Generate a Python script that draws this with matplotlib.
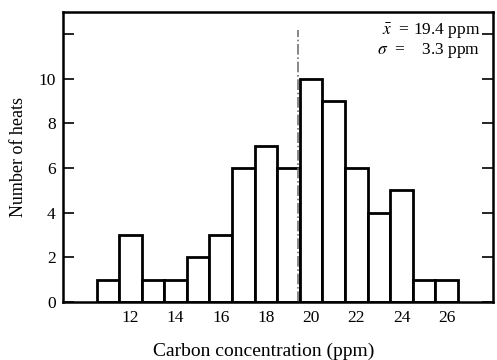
import numpy as np
import matplotlib.pyplot as plt

plt.rcParams['font.family'] = ['Liberation Serif', 'DejaVu Serif']
plt.rcParams['mathtext.fontset'] = 'stix'

# carbon concentration bins (ppm) and number of heats
conc = [11, 12, 13, 14, 15, 16, 17, 18, 19, 20, 21, 22, 23, 24, 25, 26]
heats = [1, 3, 1, 1, 2, 3, 6, 7, 6, 10, 9, 6, 4, 5, 1, 1]
mean_c = 19.4
sigma_c = 3.3

xticks = [12, 14, 16, 18, 20, 22, 24, 26]
yticks = [0, 2, 4, 6, 8, 10, 12]
ylabels = ['0', '2', '4', '6', '8', '10', '']

fig = plt.figure(figsize=(4.97, 3.6), dpi=100)
ax = fig.add_axes([0.126, 0.161, 0.866, 0.806])

ax.bar(conc, heats, width=1.0, color='white', edgecolor='black', linewidth=2)

# mean line
ax.vlines(mean_c, 0, 12.2, colors='0.45', linestyles='dashdot', linewidth=1.2)

ax.set_xlim(9, 28.05)
ax.set_ylim(0, 13)
ax.set_xticks(xticks)
ax.set_xticklabels([str(t) for t in xticks], fontsize=12.5)
ax.set_yticks(yticks)
ax.set_yticklabels(ylabels, fontsize=12.5)
ax.tick_params(axis='x', length=0, pad=6)
ax.tick_params(axis='y', direction='in', length=8, width=1.2, right=True, pad=5)
for s in ax.spines.values():
    s.set_linewidth(1.8)

ax.text(0.97, 0.932, r'$\bar{x}$  = 19.4 ppm', transform=ax.transAxes,
        ha='right', va='center', fontsize=12.5)
ax.text(0.97, 0.866, r'$\sigma$  =    3.3 ppm', transform=ax.transAxes,
        ha='right', va='center', fontsize=12.5)

ax.set_xlabel('Carbon concentration (ppm)', fontsize=14)
ax.xaxis.set_label_coords(0.466, -0.14)
ax.set_ylabel('Number of heats', fontsize=13, labelpad=8)

fig.savefig('out.png', dpi=100)
